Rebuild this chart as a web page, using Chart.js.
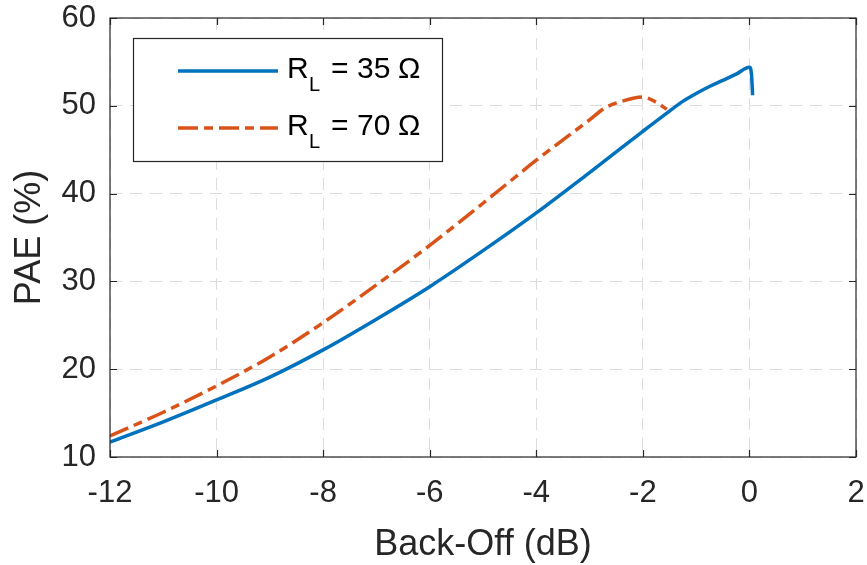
<!DOCTYPE html>
<html>
<head>
<meta charset="utf-8">
<script src="https://cdn.jsdelivr.net/npm/chart.js@4"></script>
<style>
  body { margin: 0; background: #fff; }
</style>
</head>
<body>
<canvas id="myChart" width="867" height="565"></canvas>
<script>
// data
var x35 = [-12, -11, -10, -9, -8, -7, -6, -5, -4, -3, -2, -1.5, -1.25, -1, -0.75, -0.5, -0.25, 0, 0.04, 0.06];
var pae35 = [11.7, 14.0, 16.5, 19.1, 22.2, 25.7, 29.4, 33.5, 37.8, 42.4, 47.1, 49.4, 50.5, 51.4, 52.2, 52.9, 53.6, 54.4, 53.5, 51.2];
var x70 = [-12, -11, -10, -9, -8, -7, -6, -5, -4, -3, -2.7, -2.4, -2, -1.75, -1.55];
var pae70 = [12.4, 15.1, 18.1, 21.4, 25.3, 29.6, 34.1, 38.9, 43.8, 48.4, 49.8, 50.5, 51.0, 50.4, 49.6];
var seriesNames = ['35', '70'];
var xTicks = [-12, -10, -8, -6, -4, -2, 0, 2];
var yTicks = [10, 20, 30, 40, 50, 60];

function pts(xs, ys) {
    return xs.map(function (v, i) { return { x: v, y: ys[i] }; });
}

var FONT = '"Liberation Sans", Arial, Helvetica, sans-serif';
var INK = '#262626';

// box around the axes with inward ticks on all four sides (MATLAB style)
var boxPlugin = {
    id: 'box',
    afterDatasetsDraw: function (chart) {
        var ctx = chart.ctx, a = chart.chartArea;
        var xs = chart.scales.x, ys = chart.scales.y;
        ctx.save();
        ctx.strokeStyle = INK;
        ctx.lineWidth = 1.2;
        ctx.strokeRect(a.left, a.top, a.right - a.left, a.bottom - a.top);
        ctx.beginPath();
        xTicks.forEach(function (t) {
            var px = Math.round(xs.getPixelForValue(t)) + 0.5;
            ctx.moveTo(px, a.bottom); ctx.lineTo(px, a.bottom - 7);
            ctx.moveTo(px, a.top); ctx.lineTo(px, a.top + 7);
        });
        yTicks.forEach(function (t) {
            var py = Math.round(ys.getPixelForValue(t)) + 0.5;
            ctx.moveTo(a.left, py); ctx.lineTo(a.left + 7, py);
            ctx.moveTo(a.right, py); ctx.lineTo(a.right - 7, py);
        });
        ctx.stroke();

        // legend
        var lx = 133, ly = 38, lw = 309, lh = 123;
        ctx.fillStyle = '#fff';
        ctx.fillRect(lx, ly, lw, lh);
        ctx.strokeStyle = INK;
        ctx.lineWidth = 1.2;
        ctx.strokeRect(lx + 0.5, ly + 0.5, lw, lh);
        chart.data.datasets.forEach(function (ds, i) {
            var y = 71 + i * 57;
            ctx.beginPath();
            ctx.strokeStyle = ds.borderColor;
            ctx.lineWidth = 3.5;
            ctx.setLineDash(ds.borderDash || []);
            ctx.moveTo(178, y); ctx.lineTo(278, y);
            ctx.stroke();
            ctx.setLineDash([]);
            ctx.fillStyle = '#000';
            ctx.textBaseline = 'alphabetic';
            ctx.font = '30px ' + FONT;
            ctx.fillText('R', 287, y + 7);
            ctx.font = '20px ' + FONT;
            ctx.fillText('L', 309, y + 20);
            ctx.font = '30px ' + FONT;
            ctx.fillText('=', 331, y + 7);
            ctx.fillText(seriesNames[i], 357, y + 7);
            ctx.fillText('Ω', 398, y + 7);
        });
        ctx.restore();
    }
};

var ctx = document.getElementById('myChart').getContext('2d');
var chart = new Chart(ctx, {
    type: 'line',
    data: {
        datasets: [{
            label: 'R_L = 35 Ω',
            data: pts(x35, pae35),
            borderColor: '#0072BD',
            borderWidth: 3.5,
            pointRadius: 0,
            cubicInterpolationMode: 'monotone',
            fill: false
        }, {
            label: 'R_L = 70 Ω',
            data: pts(x70, pae70),
            borderColor: '#D95319',
            borderWidth: 3.5,
            borderDash: [20, 6, 9, 6],
            pointRadius: 0,
            cubicInterpolationMode: 'monotone',
            fill: false
        }]
    },
    options: {
        responsive: false,
        animation: false,
        layout: { padding: { top: 18, right: 11, left: 0, bottom: 0 } },
        plugins: {
            legend: { display: false },
            tooltip: { enabled: false }
        },
        scales: {
            x: {
                type: 'linear',
                min: -12, max: 2,
                afterFit: function (s) { s.height = 108; s.paddingLeft = 0; s.paddingRight = 0; },
                afterBuildTicks: function (s) { s.ticks = xTicks.map(function (v) { return { value: v }; }); },
                ticks: { color: INK, font: { family: FONT, size: 31 }, padding: 18, maxRotation: 0 },
                grid: { color: '#dcdcdc', lineWidth: 1, drawTicks: false },
                border: { display: false, dash: [12, 8] },
                title: { display: true, text: 'Back-Off (dB)', color: INK, font: { family: FONT, size: 36 }, padding: { top: 0, bottom: -2 } }
            },
            y: {
                min: 10, max: 60,
                afterFit: function (s) { s.width = 110; s.paddingTop = 0; s.paddingBottom = 0; },
                afterBuildTicks: function (s) { s.ticks = yTicks.map(function (v) { return { value: v }; }); },
                ticks: { color: INK, font: { family: FONT, size: 31 }, padding: 14 },
                grid: { color: '#dcdcdc', lineWidth: 1, drawTicks: false },
                border: { display: false, dash: [12, 8] },
                title: { display: true, text: 'PAE (%)', color: INK, font: { family: FONT, size: 36 }, padding: { top: 8, bottom: 0 } }
            }
        }
    },
    plugins: [boxPlugin]
});
</script>
</body>
</html>
